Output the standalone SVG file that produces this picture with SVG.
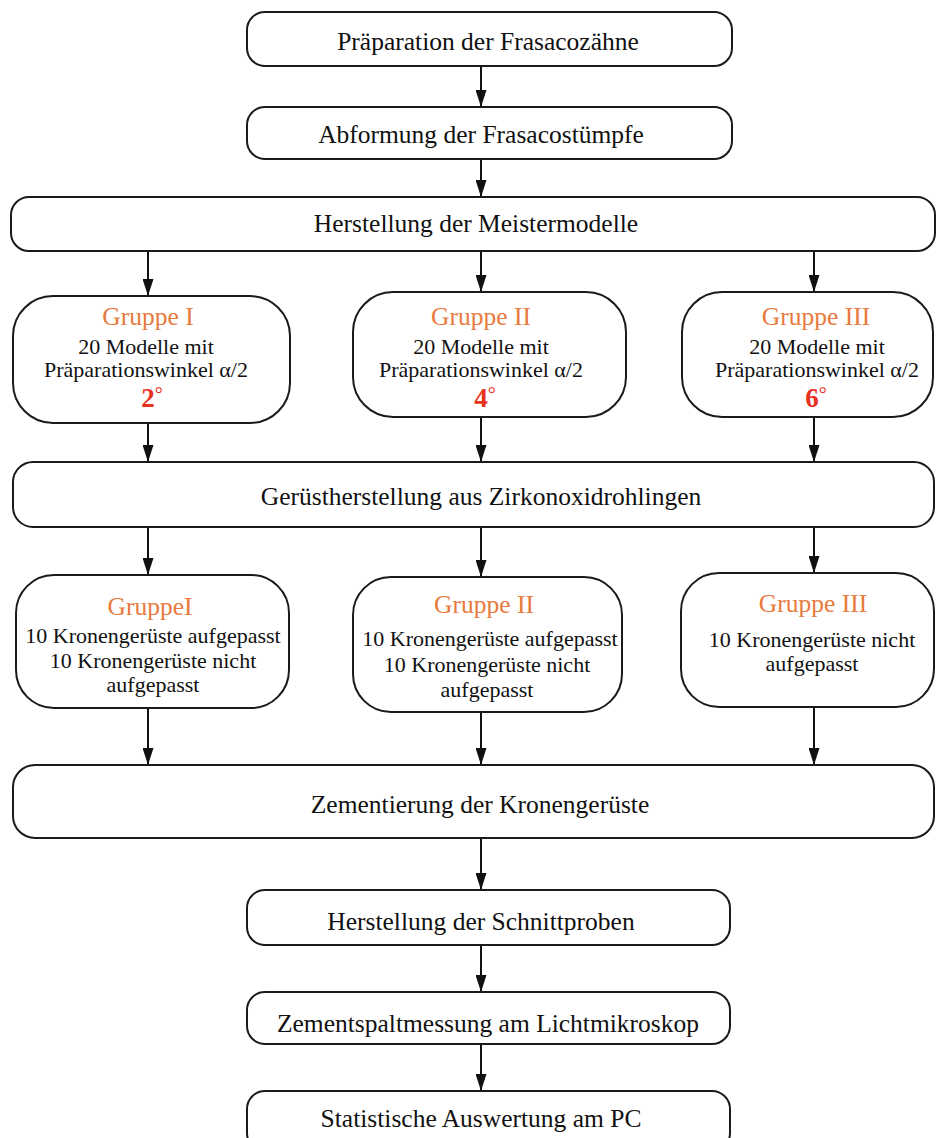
<svg xmlns="http://www.w3.org/2000/svg" width="936" height="1138" viewBox="0 0 936 1138">
<defs>
<marker id="ah" viewBox="0 0 17 11" refX="17" refY="5.5" markerWidth="17" markerHeight="11" markerUnits="userSpaceOnUse" orient="auto">
<path d="M0,0 L17,5.5 L0,11 z" fill="#111"/>
</marker>
<style>
.box{fill:#fff;stroke:#1a1a1a;stroke-width:2}
.main{font-family:"Liberation Serif","Times New Roman",serif;font-size:25.5px;fill:#111;text-anchor:middle}
.title{font-family:"Liberation Serif","Times New Roman",serif;font-size:25.5px;fill:#E87A3E;text-anchor:middle}
.body{font-family:"Liberation Serif","Times New Roman",serif;font-size:22px;fill:#111;text-anchor:middle}
.deg{font-family:"Liberation Serif","Times New Roman",serif;font-size:27px;font-weight:bold;fill:#E8321E;text-anchor:middle}
.ring{font-size:20px;font-weight:normal}
.conn{stroke:#111;stroke-width:2;fill:none;marker-end:url(#ah)}
</style>
</defs>
<rect width="936" height="1138" fill="#fff"/>
<g id="connectors">
<line class="conn" x1="481" y1="66" x2="481" y2="107"/>
<line class="conn" x1="481" y1="159" x2="481" y2="197"/>
<line class="conn" x1="148" y1="251" x2="148" y2="296"/>
<line class="conn" x1="481" y1="251" x2="481" y2="292"/>
<line class="conn" x1="814" y1="251" x2="814" y2="292"/>
<line class="conn" x1="148" y1="423" x2="148" y2="462"/>
<line class="conn" x1="481" y1="417" x2="481" y2="462"/>
<line class="conn" x1="814" y1="417" x2="814" y2="462"/>
<line class="conn" x1="148" y1="527" x2="148" y2="575"/>
<line class="conn" x1="481" y1="527" x2="481" y2="577"/>
<line class="conn" x1="814" y1="527" x2="814" y2="573"/>
<line class="conn" x1="148" y1="708" x2="148" y2="765"/>
<line class="conn" x1="481" y1="712" x2="481" y2="765"/>
<line class="conn" x1="814" y1="707" x2="814" y2="765"/>
<line class="conn" x1="481" y1="838" x2="481" y2="890"/>
<line class="conn" x1="481" y1="945" x2="481" y2="992"/>
<line class="conn" x1="481" y1="1044" x2="481" y2="1091"/>
</g>
<g id="n1"><rect class="box" x="247" y="12" width="485" height="54" rx="18"/><text class="main" x="488" y="50">Präparation der Frasacozähne</text></g>
<g id="n2"><rect class="box" x="247" y="107" width="485" height="52" rx="18"/><text class="main" x="481" y="143">Abformung der Frasacostümpfe</text></g>
<g id="n3"><rect class="box" x="11" y="197" width="924" height="54" rx="18"/><text class="main" x="476" y="232">Herstellung der Meistermodelle</text></g>
<g id="g1a"><rect class="box" x="13" y="296" width="277" height="127" rx="40"/>
<text class="title" x="148" y="325">Gruppe I</text>
<text class="body" x="146" y="354">20 Modelle mit</text>
<text class="body" x="146" y="377">Präparationswinkel α/2</text>
<text class="deg" x="152" y="407">2<tspan class="ring" dy="-6">°</tspan></text></g>
<g id="g2a"><rect class="box" x="353" y="292" width="273" height="125" rx="40"/>
<text class="title" x="481" y="325">Gruppe II</text>
<text class="body" x="481" y="354">20 Modelle mit</text>
<text class="body" x="481" y="377">Präparationswinkel α/2</text>
<text class="deg" x="485" y="407">4<tspan class="ring" dy="-6">°</tspan></text></g>
<g id="g3a"><rect class="box" x="682" y="292" width="251" height="125" rx="40"/>
<text class="title" x="816" y="325">Gruppe III</text>
<text class="body" x="817" y="354">20 Modelle mit</text>
<text class="body" x="817" y="377">Präparationswinkel α/2</text>
<text class="deg" x="816" y="407">6<tspan class="ring" dy="-6">°</tspan></text></g>
<g id="n4"><rect class="box" x="13" y="462" width="921" height="65" rx="20"/><text class="main" x="481" y="505">Gerüstherstellung aus Zirkonoxidrohlingen</text></g>
<g id="g1b"><rect class="box" x="16" y="575" width="273" height="133" rx="38"/>
<text class="title" x="150" y="615">GruppeI</text>
<text class="body" x="153" y="643">10 Kronengerüste aufgepasst</text>
<text class="body" x="153" y="668">10 Kronengerüste nicht</text>
<text class="body" x="153" y="692">aufgepasst</text></g>
<g id="g2b"><rect class="box" x="353" y="577" width="269" height="135" rx="38"/>
<text class="title" x="484" y="613">Gruppe II</text>
<text class="body" x="490" y="646">10 Kronengerüste aufgepasst</text>
<text class="body" x="487" y="672">10 Kronengerüste nicht</text>
<text class="body" x="487" y="697">aufgepasst</text></g>
<g id="g3b"><rect class="box" x="681" y="573" width="253" height="134" rx="38"/>
<text class="title" x="813" y="612">Gruppe III</text>
<text class="body" x="812" y="647">10 Kronengerüste nicht</text>
<text class="body" x="812" y="671">aufgepasst</text></g>
<g id="n5"><rect class="box" x="13" y="765" width="921" height="73" rx="22"/><text class="main" x="480" y="813">Zementierung der Kronengerüste</text></g>
<g id="n6"><rect class="box" x="247" y="890" width="483" height="55" rx="18"/><text class="main" x="481" y="930">Herstellung der Schnittproben</text></g>
<g id="n7"><rect class="box" x="247" y="992" width="483" height="52" rx="18"/><text class="main" x="488" y="1032">Zementspaltmessung am Lichtmikroskop</text></g>
<g id="n8"><rect class="box" x="247" y="1091" width="483" height="60" rx="18"/><text class="main" x="481" y="1127">Statistische Auswertung am PC</text></g>
</svg>
